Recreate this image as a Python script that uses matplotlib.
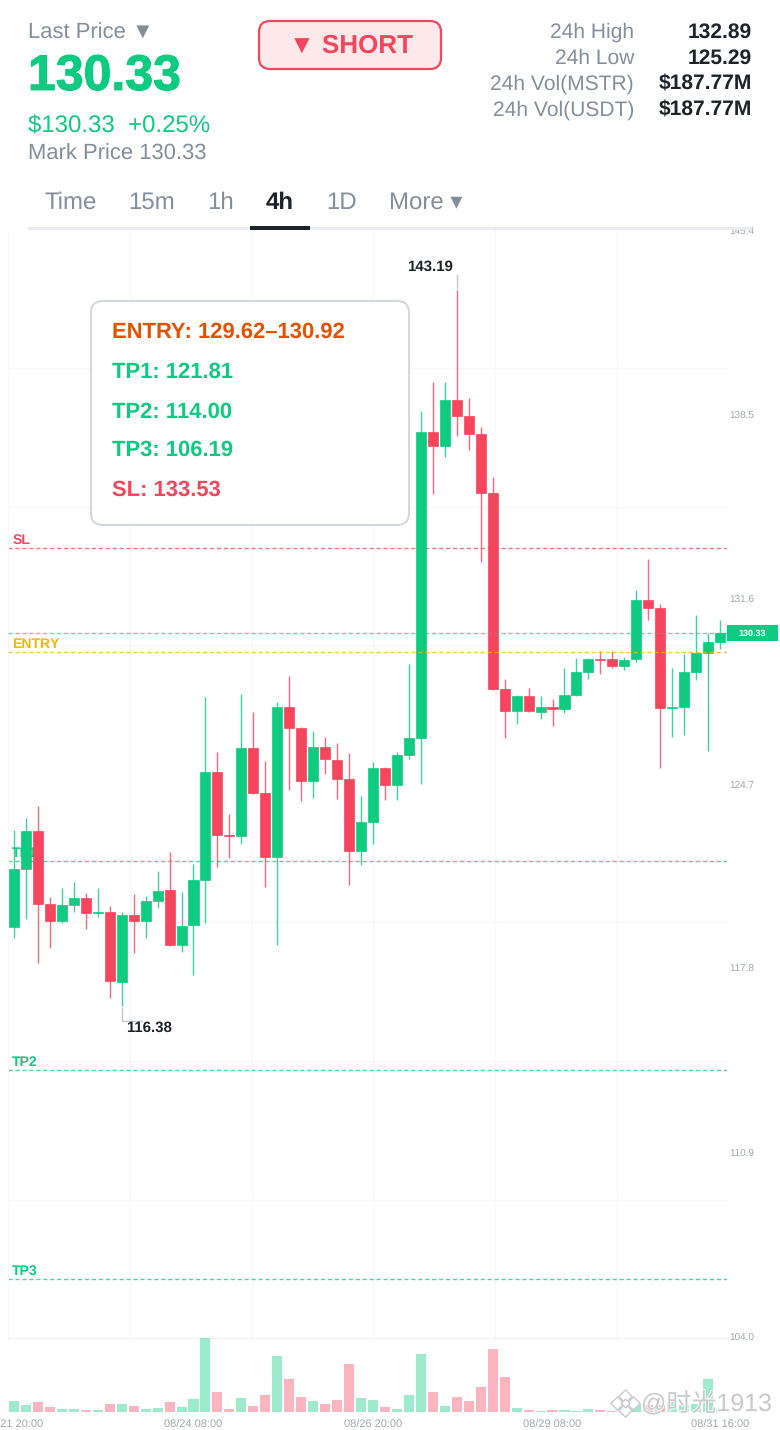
"""
MSTR/USDT 4h candlestick screen with a short-trade setup: header, price panel
with entry/target/stop lines, volume panel.

Usage: python plot.py
Output: out.png
"""
import matplotlib
matplotlib.use('Agg')
import matplotlib.pyplot as plt
import matplotlib.patheffects as pe
from matplotlib.patches import FancyBboxPatch, Rectangle

plt.rcParams['font.family'] = ['Liberation Sans', 'Noto Sans CJK SC', 'DejaVu Sans']
plt.rcParams['text.hinting'] = 'no_hinting'
plt.rcParams['text.hinting_factor'] = 1

GREEN = '#0ECB81'
RED = '#F6465D'
YELLOW = '#F0B90B'
GREY = '#848E9C'
DARK = '#1E2329'
AXIS_GREY = '#A0A6B0'
GRID = '#F7F8F9'

W, H = 780, 1430
CHART_L, CHART_R = 8, 727
CHART_T, CHART_B = 230, 1338
VOL_B = 1412

# candles, oldest first
opens = [119.35, 121.52, 122.94, 120.21, 119.58, 120.17, 120.44, 119.88, 119.91, 117.29,
         119.80, 119.58, 120.32, 120.74, 118.68, 119.43, 121.11, 125.15, 122.79, 122.76,
         126.05, 124.36, 121.97, 127.58, 126.79, 124.81, 126.08, 125.60, 124.89, 122.19,
         123.28, 125.30, 124.66, 125.78, 126.42, 137.86, 137.34, 139.06, 138.46, 137.79,
         135.58, 128.25, 127.43, 127.99, 127.39, 127.58, 127.51, 128.03, 128.89, 129.38,
         129.38, 129.11, 129.38, 131.58, 131.28, 127.54, 127.58, 128.89, 129.60, 130.01]
highs = [122.98, 123.43, 123.88, 120.47, 120.81, 121.03, 120.62, 120.81, 120.14, 119.91,
         120.59, 120.51, 121.45, 122.16, 120.66, 121.71, 127.95, 125.90, 123.58, 128.07,
         127.39, 125.56, 127.77, 128.74, 126.83, 126.68, 126.46, 126.23, 125.86, 124.25,
         125.52, 125.34, 125.90, 129.19, 138.65, 139.73, 139.73, 143.19, 139.14, 138.05,
         136.18, 128.63, 128.03, 128.29, 127.99, 127.88, 129.04, 129.41, 129.41, 129.67,
         129.67, 129.45, 131.96, 133.12, 131.43, 129.04, 129.56, 131.02, 130.35, 130.83]
lows = [118.94, 119.65, 118.01, 118.57, 119.50, 119.91, 119.28, 119.73, 116.70, 116.38,
        118.38, 118.94, 120.06, 118.64, 118.42, 117.56, 119.50, 121.60, 121.93, 122.46,
        124.33, 120.85, 118.68, 124.48, 124.06, 124.18, 125.07, 124.14, 120.92, 121.67,
        122.46, 124.10, 124.10, 125.64, 124.70, 135.55, 136.93, 137.72, 137.19, 133.00,
        128.22, 126.42, 126.94, 127.39, 127.13, 126.87, 127.36, 127.99, 128.63, 128.81,
        129.04, 128.96, 129.26, 130.83, 125.30, 126.46, 126.53, 128.59, 125.93, 129.75]
closes = [121.52, 122.94, 120.21, 119.58, 120.17, 120.44, 119.88, 119.91, 117.33, 119.80,
          119.58, 120.32, 120.70, 118.68, 119.39, 121.11, 125.15, 122.79, 122.76, 126.05,
          124.36, 121.97, 127.58, 126.79, 124.81, 126.08, 125.64, 124.89, 122.19, 123.28,
          125.30, 124.66, 125.78, 126.42, 137.86, 137.34, 139.06, 138.46, 137.79, 135.58,
          128.25, 127.43, 127.99, 127.43, 127.58, 127.51, 128.03, 128.89, 129.38, 129.34,
          129.11, 129.34, 131.58, 131.28, 127.54, 127.58, 128.89, 129.60, 130.01, 130.33]
volumes = [33, 21, 31, 15, 8, 8, 5, 6, 25, 24,
           18, 8, 11, 29, 16, 40, 222, 60, 9, 42,
           18, 52, 168, 100, 44, 34, 24, 36, 144, 42,
           36, 15, 8, 51, 174, 60, 18, 44, 33, 74,
           188, 105, 12, 6, 3, 5, 6, 4, 10, 5,
           3, 4, 23, 22, 22, 30, 21, 24, 98, 6]

price_ticks = [145.4, 138.5, 131.6, 124.7, 117.8, 110.9, 104.0]
price_grid = [140.26, 135.06, 129.90, 124.70, 119.54, 114.34, 109.16]
time_grid = [9.7, 19.9, 30.0, 40.2, 50.4]
date_idx = [0, 15, 30, 45, 59]
date_labels = ['08/21 20:00', '08/24 08:00', '08/26 20:00', '08/29 08:00', '08/31 16:00']

last_price = 130.33
level_names = ['SL', 'ENTRY', 'TP1', 'TP2', 'TP3']
level_prices = [133.53, 129.62, 121.81, 114.00, 106.19]
level_colors = [RED, YELLOW, GREEN, GREEN, GREEN]

fig = plt.figure(figsize=(W / 100, H / 100), dpi=100, facecolor='white')


def rect(left, top, right, bottom):
    return [left / W, 1 - bottom / H, (right - left) / W, (bottom - top) / H]


# price panel
ax = fig.add_axes(rect(CHART_L, CHART_T, CHART_R, CHART_B))
xs = list(range(len(opens)))
colors = [GREEN if c >= o else RED for o, c in zip(opens, closes)]
ax.vlines(xs, lows, highs, colors=colors, lw=1.0, alpha=0.8, zorder=3)
ax.bar(xs, [abs(c - o) for o, c in zip(opens, closes)], bottom=[min(o, c) for o, c in zip(opens, closes)],
       width=0.84, color=colors, edgecolor=colors, lw=0.5, zorder=4)
ax.set_xlim(-0.5, 59.58)
ax.set_ylim(103.98, 145.42)
ax.yaxis.tick_right()
ax.set_yticks(price_ticks)
ax.set_yticklabels([f'{p:.1f}' for p in price_ticks], fontsize=7.5, color=AXIS_GREY)
ax.tick_params(axis='y', which='major', length=0, pad=1.5)
ax.set_yticks(price_grid, minor=True)
ax.set_xticks(time_grid)
ax.tick_params(axis='x', which='major', length=0, labelbottom=False)
ax.tick_params(axis='y', which='minor', length=0)
ax.grid(True, axis='x', which='major', color=GRID, lw=1, zorder=0)
ax.grid(True, axis='y', which='minor', color=GRID, lw=1, zorder=0)
ax.set_axisbelow(True)
for name in ['top', 'right']:
    ax.spines[name].set_visible(False)
ax.spines['left'].set_color(GRID)
ax.spines['bottom'].set_color('#EEF0F2')

# trade levels; entry and last price sit over the candles, the others under
for name, price, col in zip(level_names, level_prices, level_colors):
    z = 5 if name == 'ENTRY' else 2
    ax.axhline(price, color=col, lw=1, ls=(0, (3, 2)), alpha=0.75, zorder=z)
    ax.annotate(name, xy=(0, price), xycoords=('axes fraction', 'data'), xytext=(3, 0.8),
                textcoords='offset points', fontsize=10, fontweight='bold', color=col,
                ha='left', va='bottom', zorder=2)
ax.axhline(last_price, color=GREEN, lw=1, ls=(0, (3, 2)), alpha=0.65, zorder=5)

# volume panel
vax = fig.add_axes(rect(CHART_L, CHART_B, CHART_R, VOL_B), sharex=None)
vax.bar(xs, volumes, width=0.84, color=colors, alpha=0.4, lw=0)
vax.set_xlim(-0.5, 59.58)
vax.set_ylim(0, 222)
vax.set_yticks([])
vax.set_xticks(date_idx)
vax.set_xticklabels(date_labels, fontsize=8, color=AXIS_GREY)
vax.tick_params(axis='x', length=0, pad=6)
for s in vax.spines.values():
    s.set_visible(False)
vax.patch.set_alpha(0)

# overlay in pixel coordinates for the header and the app furniture
top = fig.add_axes([0, 0, 1, 1], zorder=10)
top.set_xlim(0, W)
top.set_ylim(H, 0)
top.axis('off')
top.patch.set_alpha(0)
top.add_patch(Rectangle((0, 0), W, 227, fc='white', ec='none'))


def label(x, y, s, size, color, weight='normal', ha='left'):
    return top.text(x, y + 2, s, fontsize=size * 0.72, color=color, fontweight=weight, ha=ha, va='center')


label(28, 31, 'Last Price ▼', 22, GREY)
big = label(28, 75, '130.33', 50, GREEN, 'bold')
big.set_path_effects([pe.withStroke(linewidth=0.8, foreground=GREEN)])
label(28, 124, '$130.33  +0.25%', 24, GREEN)
label(28, 152, 'Mark Price 130.33', 22, GREY)

top.add_patch(FancyBboxPatch((259, 21), 182, 48, boxstyle='round,pad=0,rounding_size=11',
                             fc='#FDE8EA', ec=RED, lw=1.6))
label(351, 44, '▼ SHORT', 26, RED, 'bold', ha='center')

stat_names = ['24h High', '24h Low', '24h Vol(MSTR)', '24h Vol(USDT)']
stat_values = ['132.89', '125.29', '$187.77M', '$187.77M']
for i, (n, v) in enumerate(zip(stat_names, stat_values)):
    label(634, 30 + 26 * i, n, 21, GREY, ha='right')
    label(752, 30 + 26 * i, v, 21.3, DARK, 'bold', ha='right')

for x, s in zip([44, 128, 207, 326, 389], ['Time', '15m', '1h', '1D', 'More ▾']):
    label(x, 201, s, 24, GREY)
label(266, 201, '4h', 24, DARK, 'bold')
top.add_patch(Rectangle((28, 227), 724, 3, fc='#EAECEF', ec='none'))
top.add_patch(Rectangle((250, 226), 60, 4, fc=DARK, ec='none'))

# setup box
top.add_patch(FancyBboxPatch((91, 301), 318, 224, boxstyle='round,pad=0,rounding_size=12',
                             fc='white', ec='#D5D8DC', lw=1.5))
box_lines = ['ENTRY: 129.62–130.92', 'TP1: 121.81', 'TP2: 114.00', 'TP3: 106.19', 'SL: 133.53']
box_colors = ['#E65100', GREEN, GREEN, GREEN, RED]
for y, s, c in zip([330, 370, 410, 448, 488], box_lines, box_colors):
    label(112, y, s, 22, c, 'bold')

# extreme markers
top.plot([457, 457], [275, 288], color='#C5C8CE', lw=1)
label(430, 264.5, '143.19', 15, DARK, 'bold', ha='center')
top.plot([122, 122, 142], [1008, 1021, 1021], color='#C5C8CE', lw=1)
label(149, 1025.5, '116.38', 15, DARK, 'bold', ha='center')

# last price tag
top.add_patch(Rectangle((727, 625), 51, 16, fc=GREEN, ec='none'))
label(752.5, 631.5, '130.33', 9.5, 'white', 'bold', ha='center')

# watermark
halo = [pe.withStroke(linewidth=1.5, foreground='white')]
top.text(641, 1404, '@时光1913', fontsize=18, color='#C4C6CA', alpha=0.9, ha='left', va='center',
         path_effects=halo)
for dx, dy, sz in [(0, -7, 45), (-8, 0, 45), (8, 0, 45), (0, 7, 45), (0, 0, 20)]:
    top.scatter(625 + dx, 1403 + dy, marker='D', s=sz, fc='white', ec='#C9CBCF', lw=1, zorder=12)

fig.savefig('out.png', dpi=100, facecolor='white')
print('Saved: out.png')
